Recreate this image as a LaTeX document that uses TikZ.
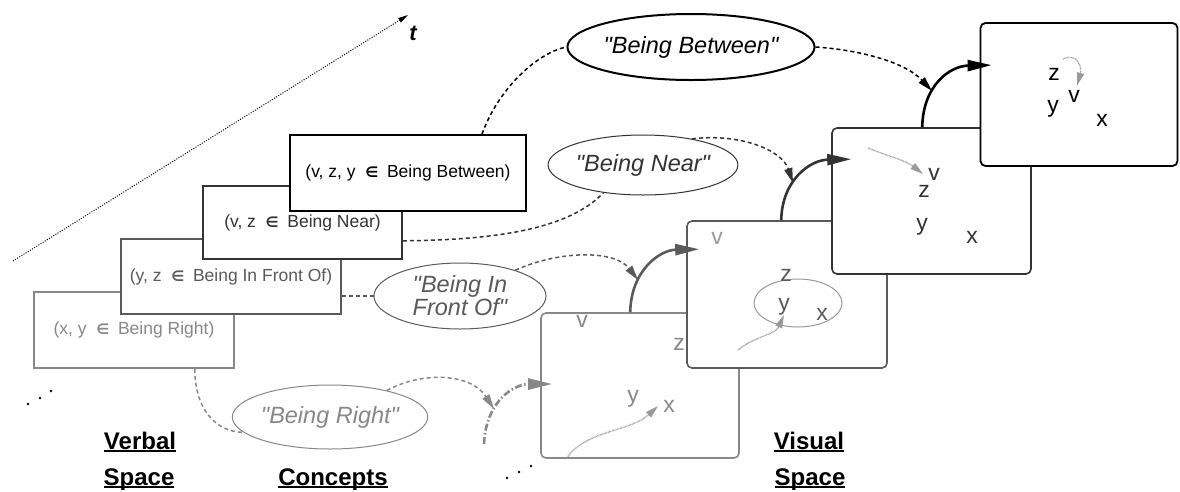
\documentclass[tikz,border=0pt]{standalone}
\usepackage{fontspec}
\setmainfont{Liberation Sans}[Ligatures=TeXOff]
\newfontfamily\djv{DejaVu Sans}
\usetikzlibrary{arrows.meta,shapes.geometric}
\definecolor{cA}{HTML}{888888}
\definecolor{cB}{HTML}{5A5A5A}
\definecolor{cC}{HTML}{333333}
\definecolor{cDot}{HTML}{999999}
\newcommand\memb{\hspace{0.55em}{\djv\bfseries\fontsize{14.5}{14.5}\selectfont ∈}\hspace{0.5em}}
\newcommand\myul[1]{\setbox0=\hbox{#1}\rlap{\rule[-3pt]{\wd0}{1.8pt}}\box0}
\tikzset{
  vbox/.style={rectangle, draw, fill=white, line width=1.6pt, inner sep=0pt, font=\fontsize{17.5}{21}\selectfont},
  vframe/.style={rectangle, draw, fill=white, rounded corners=5pt, line width=1.6pt, inner sep=0pt},
  concept/.style={ellipse, draw, fill=white, inner sep=0pt, line width=1pt, font=\fontsize{23.5}{21}\selectfont\itshape, align=center},
  lbl/.style={font=\fontsize{23}{24}\selectfont, anchor=base, inner sep=0pt},
  cdash/.style={dash pattern=on 4pt off 3pt, line width=1.5pt},
  ctip/.style={-{Triangle[length=15pt,width=8pt]}},
  frarrow/.style={line width=2.6pt, -{Triangle[length=24pt,width=11pt]}},
  innerarrow/.style={color=cDot, line width=1.4pt, dash pattern=on 0.7pt off 0.7pt, -{Triangle[length=13pt,width=7pt]}},
  heading/.style={font=\fontsize{24}{26}\selectfont\bfseries, anchor=base, inner sep=0pt},
}
\begin{document}
\begin{tikzpicture}[x=1pt,y=-1pt]
\useasboundingbox (0,0) rectangle (1180,491);

% time axis
\coordinate (t0) at (13,261);
\coordinate (t1) at (408,15);
\draw[line width=1pt, dash pattern=on 1pt off 1.5pt, -{Triangle[length=10pt,width=5pt]}] (t0) -- (t1);
\node[font=\fontsize{22}{22}\selectfont\bfseries\itshape, inner sep=0pt] (tlab) at (413,33) {t};

% verbal boxes
\node[vbox, draw=cA, text=cA, minimum width=200, minimum height=76] (rbox) at (134,330) {(x, y\memb Being Right)};
\node[vbox, draw=cB, text=cB, minimum width=220, minimum height=75] (ifbox) at (231,276.5) {(y, z\memb Being In Front Of)};
\node[vbox, draw=cC, text=cC, minimum width=199, minimum height=73] (nbox) at (302.5,222.5) {(v, z\memb Being Near)};
\node[vbox, draw=black, text=black, line width=1.9pt, minimum width=236, minimum height=76] (bbox) at (408,173) {(v, z, y\memb Being Between)};

% dots
\fill (28,404) circle (1.4pt);
\fill (40,398) circle (1.4pt);
\fill (51,391) circle (1.4pt);
\fill (507,478) circle (1.4pt);
\fill (519,472) circle (1.4pt);
\fill (531,466) circle (1.4pt);

% concept ellipses
\node[concept, draw=black, text=black, line width=2pt, minimum width=214, minimum height=66] (bell) at (691,47) {"Being Between"};
\node[concept, draw=cC, text=cC, minimum width=154, minimum height=60] (nell) at (643,165) {"Being Near"};
\node[concept, draw=cB, text=cB, minimum width=172, minimum height=66] (ifell) at (460,296) {"Being In\\Front Of"};
\node[concept, draw=cA, text=cA, minimum width=180, minimum height=64] (rell) at (330,417) {"Being Right"};

% visual frames
\node[vframe, draw=cA, minimum width=198, minimum height=145] (f1) at (640,385.5) {};
\node[lbl, text=cA] (f1v) at (582,327) {v};
\node[lbl, text=cA] (f1z) at (679,350) {z};
\node[lbl, text=cA] (f1y) at (633,402) {y};
\node[lbl, text=cA] (f1x) at (669,412) {x};

\node[vframe, draw=cB, minimum width=200, minimum height=147] (f2) at (787,294.5) {};
\node[lbl, text=cDot] (f2v) at (717,244) {v};
\node[ellipse, draw=cDot, line width=1pt, minimum width=88, minimum height=48, inner sep=0pt] (f2e) at (798,303) {};
\node[lbl, text=cB] (f2z) at (786,281) {z};
\node[lbl, text=cB] (f2y) at (784,310) {y};
\node[lbl, text=cB] (f2x) at (822,320) {x};

\node[vframe, draw=cC, minimum width=199, minimum height=146] (f3) at (931.5,201) {};
\node[lbl, text=cC] (f3v) at (934,180) {v};
\node[lbl, text=cC] (f3z) at (924,197) {z};
\node[lbl, text=cC] (f3y) at (922,230) {y};
\node[lbl, text=cC] (f3x) at (972,243) {x};

\node[vframe, draw=black, line width=1.8pt, minimum width=197, minimum height=143] (f4) at (1079,94.5) {};
\node[lbl, text=black] (f4z) at (1054,80) {z};
\node[lbl, text=black] (f4v) at (1074,102) {v};
\node[lbl, text=black] (f4y) at (1053,112) {y};
\node[lbl, text=black] (f4x) at (1102,126) {x};

% inner motion arrows
\draw[innerarrow] ([shift={(26,0)}]f1.south west) .. controls (585,430) and (630,432) .. ([xshift=-5pt]f1x.west);
\coordinate (f2s) at (738,350);
\draw[innerarrow] (f2s) .. controls (755,336) and (775,335) .. (f2y.south);
\coordinate (f3s) at (868,148);
\draw[innerarrow] (f3s) .. controls (890,157) and (905,160) .. ([xshift=-5pt]f3v.west);
\coordinate (f4s) at (1063,59);
\draw[innerarrow] (f4s) .. controls (1078,52) and (1082,68) .. ([shift={(3,-4)}]f4v.north);

% transitions between frames
\coordinate (aAs) at (484,444);
\draw[frarrow, cA, dash pattern=on 7pt off 2.5pt on 1.5pt off 2.5pt] (aAs) .. controls (486,400) and (515,384) .. ([shift={(12,-1.5)}]f1.west);
\draw[frarrow, cB] ([shift={(90,0)}]f1.north west) .. controls (631,270) and (660,250) .. ([shift={(13,29)}]f2.north west);
\draw[frarrow, cC] ([shift={(95,0)}]f2.north west) .. controls (782,180) and (810,160) .. ([shift={(20,32)}]f3.north west);
\draw[frarrow, black] ([shift={(91,0)}]f3.north west) .. controls (923,85) and (950,66) .. ([shift={(12,43)}]f4.north west);

\coordinate (hitA) at (494,409);
\coordinate (hitB) at (638,280);
\coordinate (hitC) at (793,183);
\coordinate (hitD) at (932,91);

% concept connectors
\draw[cdash, cA] ([xshift=-40pt]rbox.south east) .. controls +(0,42) and +(-26,0) .. (rell.190);
\draw[cdash, cA, ctip] (rell.25) .. controls (420,372) and (470,372) .. (hitA);
\draw[cdash, cB] (ifbox.east |- ifell.west) -- (ifell.west);
\draw[cdash, cB, ctip] (ifell.25) .. controls (560,250) and (615,250) .. (hitB);
\draw[cdash, cC] ([shift={(0,-19)}]nbox.south east) .. controls (500,240) and (570,228) .. (nell.215);
\draw[cdash, cC, ctip] (nell.28) .. controls (740,133) and (782,150) .. (hitC);
\draw[cdash, black] ([shift={(74,0)}]bbox.north) .. controls (500,85) and (540,52) .. (bell.west);
\draw[cdash, black, ctip] (bell.east) .. controls (860,50) and (905,62) .. (hitD);

% headings
\node[heading] (vs1) at (140,449) {\myul{Verbal}};
\node[heading] (vs2) at (139,485) {\myul{Space}};
\node[heading] (cc) at (333,485) {\myul{Concepts}};
\node[heading] (vis1) at (809,449) {\myul{Visual}};
\node[heading] (vis2) at (810,485) {\myul{Space}};
\end{tikzpicture}
\end{document}
